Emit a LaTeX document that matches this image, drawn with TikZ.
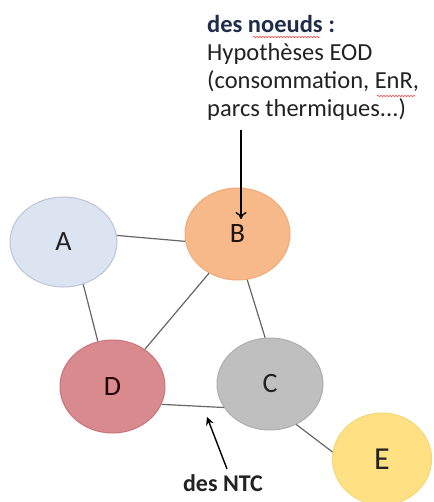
\documentclass[tikz,border=0pt]{standalone}
\usepackage{fontspec}
\setmainfont{Carlito}
\usetikzlibrary{shapes.geometric,arrows.meta,decorations.pathmorphing}
\definecolor{aFill}{HTML}{DCE3F1}\definecolor{aDraw}{HTML}{BAC5D7}
\definecolor{bFill}{HTML}{F8B98A}\definecolor{bDraw}{HTML}{EFAA7A}
\definecolor{dFill}{HTML}{D98A8E}\definecolor{dDraw}{HTML}{C8767B}
\definecolor{cFill}{HTML}{BFBFBF}\definecolor{cDraw}{HTML}{ADADAD}
\definecolor{eFill}{HTML}{FFE083}\definecolor{eDraw}{HTML}{F6D676}
\definecolor{edgeGray}{HTML}{666666}
\definecolor{txt}{HTML}{222222}
\definecolor{navy}{HTML}{1F2D4A}
\begin{document}
\begin{tikzpicture}[x=1pt,y=-1pt,
  bubble/.style={ellipse,inner sep=0pt,line width=1pt,font=\fontsize{28}{30}\selectfont},
  link/.style={draw=edgeGray,line width=1.2pt},
  pointer/.style={draw=black,line width=1.4pt,-{Stealth[length=8pt,width=8pt]}},
  spell/.style={draw=red!75,line width=0.6pt,decorate,decoration={snake,amplitude=0.7pt,segment length=3pt}}]
\useasboundingbox (0,0) rectangle (433,502);
\fill[white] (0,0) rectangle (433,502);
% nodes
\node[bubble,fill=aFill,draw=aDraw,minimum width=107pt,minimum height=90pt,text=txt] (A) at (63.5,242) {A};
\node[bubble,fill=bFill,draw=bDraw,minimum width=105pt,minimum height=92pt,text=black!85!brown] (B) at (237.5,234) {B};
\node[bubble,fill=dFill,draw=dDraw,minimum width=105pt,minimum height=93pt,text=black!85!red] (D) at (112.5,386.5) {D};
\node[bubble,fill=cFill,draw=cDraw,minimum width=106pt,minimum height=92pt,text=txt] (C) at (270,384) {C};
\node[bubble,fill=eFill,draw=eDraw,minimum width=99pt,minimum height=92pt,text=txt,font=\fontsize{32}{34}\selectfont] (E) at (382,459) {E};
% links
\draw[link] (A.7) -- (B.188);
\draw[link] (A.295) -- (D.108);
\draw[link] (B.234) -- (D.49);
\draw[link] (B.282) -- (C.96);
\draw[link] (D.340) -- (C.207);
\draw[link] (C.303) -- (E.172);
% notes text
\node[anchor=north west,inner sep=0pt,align=left,text=txt,font=\fontsize{24.5}{28}\selectfont] (notes) at (207,15)
 {\textcolor{navy}{\textbf{des noeuds :}}\\Hypothèses EOD\\(consommation, EnR,\\parcs thermiques...)};
\draw[spell] (253,37) -- (320,37);
\draw[spell] (377,96) -- (415,96);
\coordinate (ntop) at (241,130);
\coordinate (btip) at (241,219);
\draw[pointer,-{To[length=7pt,width=11pt,line width=1.4pt]}] (ntop) -- (btip);
% NTC label
\node[inner sep=0pt,text=txt,font=\fontsize{24}{28}\selectfont\bfseries] (ntc) at (223,483) {des NTC};
\coordinate (nstart) at (227,469);
\coordinate (ntip) at (207,417);
\draw[pointer] (nstart) -- (ntip);
\end{tikzpicture}
\end{document}
